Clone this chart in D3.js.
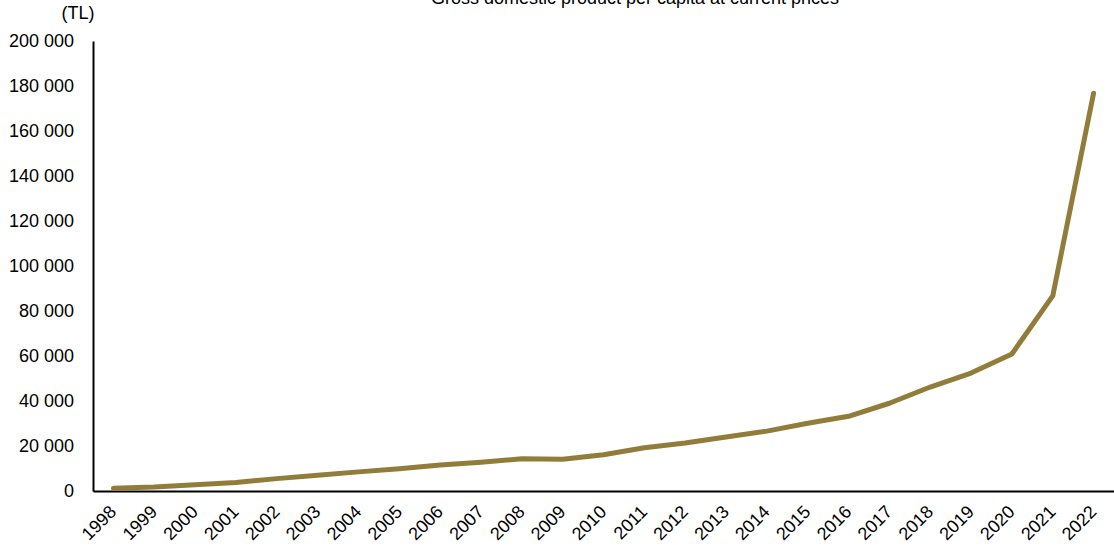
<!DOCTYPE html>
<html><head><meta charset="utf-8">
<script src="https://cdn.jsdelivr.net/npm/d3@7"></script>
<style>body{margin:0;background:#fff;} text{font-family:"Liberation Sans",Arial,sans-serif;fill:#000;}</style>
</head><body>
<svg id="c" width="1114" height="552"></svg>
<script>
const years = ["1998","1999","2000","2001","2002","2003","2004","2005","2006","2007","2008","2009","2010","2011","2012","2013","2014","2015","2016","2017","2018","2019","2020","2021","2022"];
const gdpPerCapita = [1200,1750,2800,3800,5500,7000,8500,9900,11600,12800,14300,14100,16100,19200,21300,24000,26600,30100,33200,39000,46200,52400,60900,86700,176800];
const yTicks = [0,20000,40000,60000,80000,100000,120000,140000,160000,180000,200000];
const title = "Gross domestic product per capita at current prices";
const unitLabel = "(TL)";

const svg = d3.select("#c");
const m = {l:93, r:0, t:41, b:61};
const W = 1114, H = 552;
const x = d3.scaleBand().domain(years).range([m.l, W]).paddingInner(0).paddingOuter(0);
const y = d3.scaleLinear().domain([0,200000]).range([H-m.b, m.t]);
const fmt = v => d3.format(",")(v).replace(/,/g," ");

svg.append("text").attr("x",635).attr("y",4).attr("text-anchor","middle").attr("font-size",18).text(title);
svg.append("text").attr("x",78).attr("y",19).attr("text-anchor","middle").attr("font-size",18).text(unitLabel);

const ya = svg.append("g").attr("transform",`translate(${m.l},0)`)
  .call(d3.axisLeft(y).tickValues(yTicks).tickFormat(fmt).tickSize(0).tickPadding(19));
ya.select(".domain").attr("stroke","#000").attr("stroke-width",2);
ya.selectAll("text").attr("font-size",18).style("font-family","Liberation Sans, Arial, sans-serif");

const xa = svg.append("g").attr("transform",`translate(0,${H-m.b})`)
  .call(d3.axisBottom(x).tickSize(0).tickPadding(0));
xa.select(".domain").attr("stroke","#000").attr("stroke-width",2);
xa.selectAll("text").attr("font-size",18).style("font-family","Liberation Sans, Arial, sans-serif")
  .attr("text-anchor","end").attr("dy",0).attr("y",0)
  .attr("transform","translate(4,22) rotate(-45)");

const line = d3.line().x((d,i)=>x(years[i])+x.bandwidth()/2).y(d=>y(d));
svg.append("path").datum(gdpPerCapita).attr("d",line).attr("fill","none")
  .attr("stroke","#917D39").attr("stroke-width",5).attr("stroke-linejoin","round").attr("stroke-linecap","round");
</script>
</body></html>
